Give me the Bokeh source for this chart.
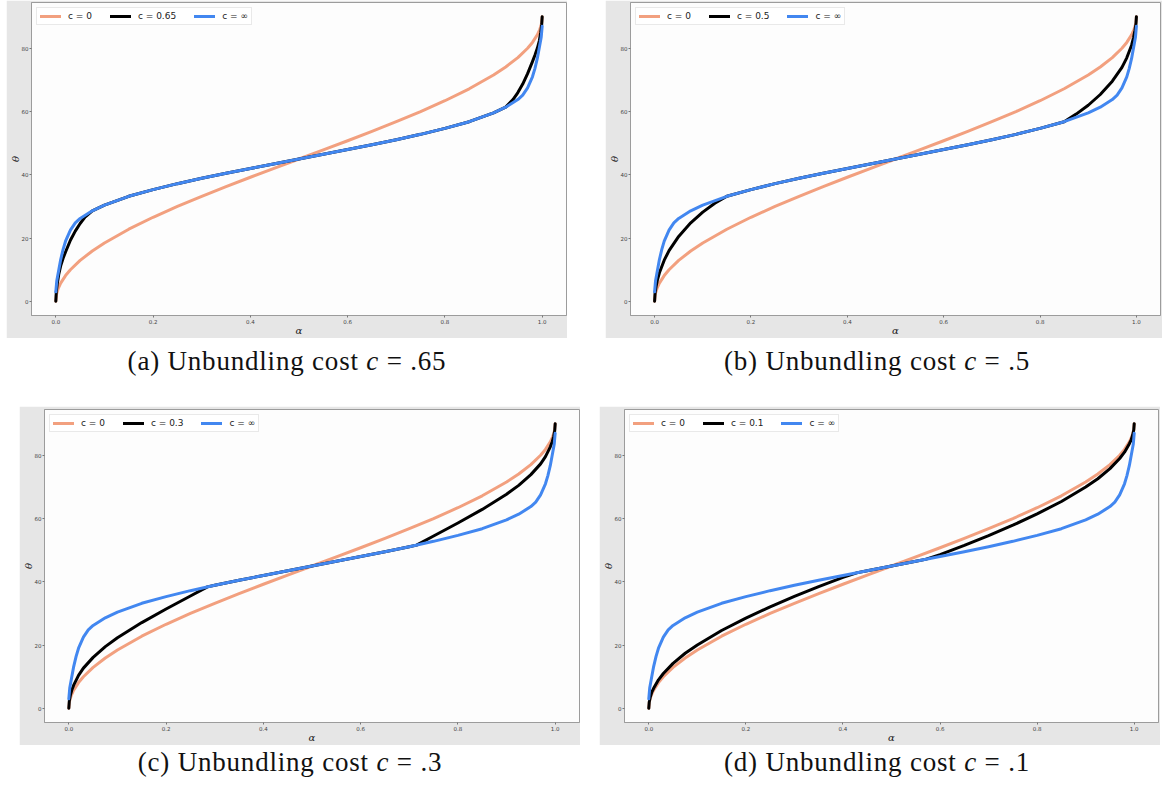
from bokeh.plotting import figure
from bokeh.models import Range1d, FixedTicker, Legend, LegendItem, Div, Spacer, PrintfTickFormatter
from bokeh.layouts import column, row
from bokeh.embed import file_html
from bokeh.resources import INLINE

# ---------------- data ----------------
# c = 0 curve (salmon)
alpha_c0 = [0, 0.001, 0.0025, 0.005, 0.01, 0.02, 0.03, 0.05, 0.075, 0.1, 0.15, 0.2, 0.25, 0.3,
            0.35, 0.4, 0.45, 0.5, 0.55, 0.6, 0.65, 0.7, 0.75, 0.8, 0.85, 0.9, 0.925, 0.95,
            0.97, 0.98, 0.99, 0.995, 0.9975, 0.999, 1.0]
theta_c0 = [0, 1.81, 2.87, 4.05, 5.74, 8.13, 9.97, 12.92, 15.89, 18.43, 22.79, 26.57, 30.0, 33.21,
            36.27, 39.23, 42.13, 45.0, 47.87, 50.77, 53.73, 56.79, 60.0, 63.43, 67.21, 71.57, 74.11, 77.08,
            80.03, 81.87, 84.26, 85.95, 87.13, 88.19, 90.0]

# c = infinity curve (blue)
alpha_inf = [0, 0.002, 0.005, 0.01, 0.015, 0.02, 0.03, 0.04, 0.05, 0.075, 0.1, 0.15, 0.2, 0.25,
             0.3, 0.35, 0.4, 0.45, 0.5, 0.55, 0.6, 0.65, 0.7, 0.75, 0.8, 0.85, 0.9, 0.925, 0.95,
             0.96, 0.97, 0.98, 0.985, 0.99, 0.995, 0.998, 1.0]
theta_inf = [3.0, 6.5, 9.0, 13.2, 16.4, 19.0, 22.5, 24.8, 26.2, 28.6, 30.4, 33.2, 35.3, 37.2,
             38.9, 40.5, 42.0, 43.5, 45.0, 46.5, 48.0, 49.5, 51.1, 52.8, 54.7, 56.8, 59.6, 61.4, 63.8,
             65.2, 67.5, 71.0, 73.6, 76.8, 81.0, 83.5, 87.0]

# finite-cost curves (black): lower and upper branches, middle follows the blue curve
cost_labels = ["0.65", "0.5", "0.3", "0.1"]
caption_costs = [".65", ".5", ".3", ".1"]
panel_letters = ["a", "b", "c", "d"]

black_lo_alpha = [
    [0, 0.001, 0.003, 0.006, 0.01, 0.015, 0.02, 0.03, 0.04, 0.05, 0.06, 0.075],
    [0, 0.001, 0.003, 0.006, 0.01, 0.02, 0.03, 0.05, 0.075, 0.1, 0.125, 0.15],
    [0, 0.001, 0.003, 0.006, 0.01, 0.02, 0.03, 0.05, 0.075, 0.1, 0.15, 0.2, 0.25, 0.285],
    [0, 0.001, 0.003, 0.006, 0.01, 0.02, 0.03, 0.05, 0.075, 0.1, 0.15, 0.2, 0.25, 0.3, 0.35, 0.4, 0.43],
]
black_lo_theta = [
    [0, 3.0, 5.5, 8.5, 11.2, 13.6, 15.6, 19.3, 22.2, 24.6, 26.6, 28.6],
    [0, 2.6, 4.6, 6.8, 9.0, 13.0, 16.0, 20.5, 24.8, 28.2, 31.0, 33.2],
    [0, 2.3, 4.0, 5.7, 7.3, 10.4, 12.7, 16.1, 19.5, 22.3, 27.1, 31.4, 35.5, 38.4],
    [0, 2.0, 3.5, 5.0, 6.3, 9.0, 11.0, 14.2, 17.4, 20.0, 24.6, 28.5, 32.1, 35.4, 38.5, 41.4, 42.9],
]
black_hi_alpha = [
    [0.925, 0.94, 0.95, 0.96, 0.97, 0.98, 0.985, 0.99, 0.994, 0.997, 0.999, 1.0],
    [0.85, 0.875, 0.9, 0.925, 0.95, 0.97, 0.98, 0.99, 0.994, 0.997, 0.999, 1.0],
    [0.715, 0.75, 0.8, 0.85, 0.9, 0.925, 0.95, 0.97, 0.98, 0.99, 0.994, 0.997, 0.999, 1.0],
    [0.57, 0.6, 0.65, 0.7, 0.75, 0.8, 0.85, 0.9, 0.925, 0.95, 0.97, 0.98, 0.99, 0.994, 0.997, 0.999, 1.0],
]
black_hi_theta = [
    [61.4, 63.8, 66.0, 68.7, 72.0, 75.8, 77.8, 80.0, 82.3, 85.0, 87.5, 90.0],
    [56.8, 59.2, 62.0, 65.4, 69.6, 74.0, 77.0, 81.0, 83.4, 85.7, 87.6, 90.0],
    [51.6, 54.5, 58.6, 62.9, 67.7, 70.5, 73.9, 77.3, 79.6, 82.7, 84.3, 86.0, 87.7, 90.0],
    [47.1, 48.6, 51.5, 54.6, 57.9, 61.5, 65.4, 70.0, 72.6, 75.8, 79.0, 81.0, 83.7, 85.0, 86.5, 88.0, 90.0],
]

x_ticks = [0.0, 0.2, 0.4, 0.6, 0.8, 1.0]
y_ticks = [0, 20, 40, 60, 80]

# ---------------- styling ----------------
GRAY = "#e6e6e6"
SALMON = "#f2a07f"
BLUE = "#4287f0"
BLACK = "#000000"
SPINE = "#9c9c9c"


def make_panel(i, width, height, mb_left, mb_right, mb_top, mb_bottom):
    p = figure(width=width, height=height, x_range=Range1d(-0.05, 1.05), y_range=Range1d(-4.5, 94.5),
               output_backend="svg", toolbar_location=None,
               min_border_left=mb_left, min_border_right=mb_right,
               min_border_top=mb_top, min_border_bottom=mb_bottom,
               border_fill_color=GRAY, background_fill_color="#fdfdfd",
               outline_line_color=SPINE, outline_line_width=1)
    p.grid.visible = False

    lo_a, lo_t = black_lo_alpha[i], black_lo_theta[i]
    hi_a, hi_t = black_hi_alpha[i], black_hi_theta[i]
    mid = [(a, t) for a, t in zip(alpha_inf, theta_inf) if lo_a[-1] < a < hi_a[0]]
    bx = lo_a + [m[0] for m in mid] + hi_a
    by = lo_t + [m[1] for m in mid] + hi_t

    r0 = p.line(alpha_c0, theta_c0, line_color=SALMON, line_width=3, line_join="round", line_cap="round")
    r1 = p.line(bx, by, line_color=BLACK, line_width=3, line_join="round", line_cap="round")
    r2 = p.line(alpha_inf, theta_inf, line_color=BLUE, line_width=3, line_join="round", line_cap="round")

    for ax in (p.xaxis[0], p.yaxis[0]):
        ax.axis_line_color = SPINE
        ax.major_tick_line_color = "#777777"
        ax.major_tick_out = 2
        ax.major_tick_in = 0
        ax.minor_tick_line_color = None
        ax.major_label_text_font = "DejaVu Sans"
        ax.major_label_text_font_size = "5.5px"
        ax.major_label_text_color = "#444444"
        ax.major_label_standoff = 1
        ax.axis_label_text_font = "DejaVu Serif"
        ax.axis_label_text_font_style = "italic"
        ax.axis_label_text_font_size = "10px"
        ax.axis_label_text_color = "#222222"
        ax.axis_label_standoff = -2

    p.xaxis[0].ticker = FixedTicker(ticks=x_ticks)
    p.xaxis[0].formatter = PrintfTickFormatter(format="%.1f")
    p.xaxis[0].axis_label = "α"
    p.yaxis[0].ticker = FixedTicker(ticks=y_ticks)
    p.yaxis[0].formatter = PrintfTickFormatter(format="%d")
    p.yaxis[0].axis_label = "θ"

    legend = Legend(items=[LegendItem(label="c = 0", renderers=[r0]),
                           LegendItem(label="c = " + cost_labels[i], renderers=[r1]),
                           LegendItem(label="c = ∞", renderers=[r2])],
                    location="top_left", orientation="horizontal",
                    margin=5, padding=3, spacing=18, glyph_width=21, glyph_height=10,
                    label_standoff=7, label_text_font="DejaVu Sans", label_text_font_size="9px",
                    label_height=10, label_text_color="#222222",
                    border_line_color="#d4d4d4", border_line_width=1,
                    background_fill_color="white", background_fill_alpha=1.0)
    p.add_layout(legend)
    return p


def caption(i, width, height, pad):
    html = ('<div style="width:%dpx;font-family:\'Liberation Serif\',serif;font-size:27px;line-height:30px;'
            'letter-spacing:0.8px;text-align:center;color:#111;padding-top:%dpx;white-space:nowrap;">'
            '(%s) Unbundling cost <i>c</i> = %s</div>') % (width, pad, panel_letters[i], caption_costs[i])
    return Div(text=html, width=width, height=height, margin=(0, 0, 0, 0),
               styles={"text-align": "center", "width": "%dpx" % width})


fa = make_panel(0, 561, 338, 24, 1, 2, 22)
fb = make_panel(1, 557, 338, 23, 2, 2, 22)
fc = make_panel(2, 561, 339, 23, 1, 3, 23)
fd = make_panel(3, 561, 339, 23, 2, 3, 23)

layout = column(
    row(Spacer(width=6, height=338), fa, Spacer(width=38, height=338), fb),
    row(caption(0, 574, 68, 8), Spacer(width=18, height=68), caption(1, 570, 68, 8)),
    row(Spacer(width=19, height=339), fc, Spacer(width=19, height=339), fd),
    row(caption(2, 580, 40, 2), Spacer(width=14, height=40), caption(3, 566, 40, 2)),
)

open("out.html", "w").write(file_html(layout, INLINE))
